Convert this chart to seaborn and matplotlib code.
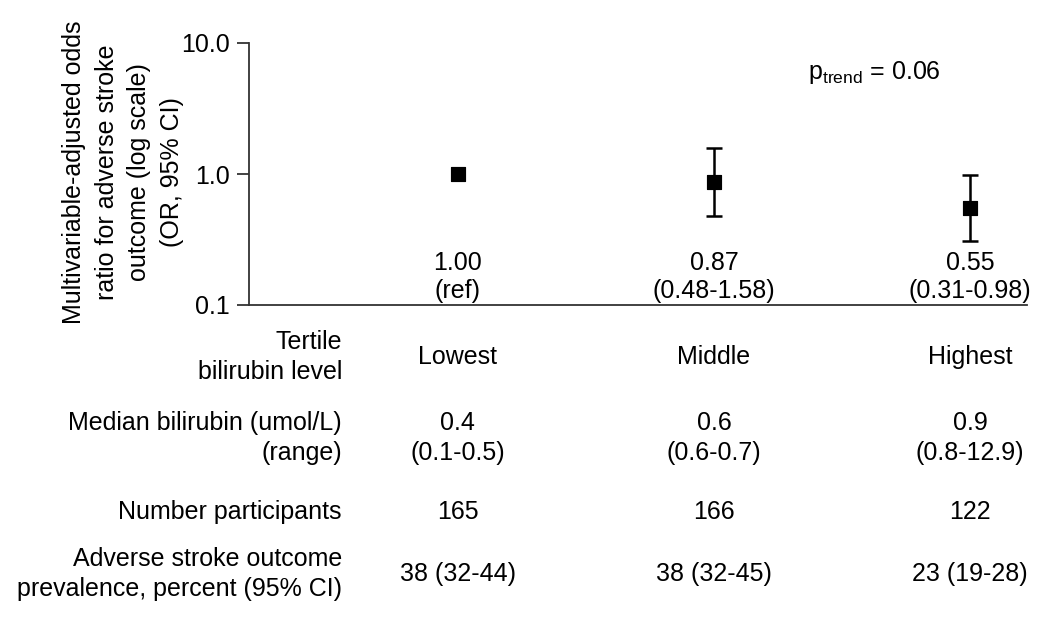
import matplotlib
matplotlib.use("Agg")
import matplotlib.pyplot as plt
import matplotlib.transforms as mtransforms
import seaborn as sns
import pandas as pd

tertiles = ["Lowest", "Middle", "Highest"]
odds_ratio = [1.00, 0.87, 0.55]
ci_low = [None, 0.48, 0.31]
ci_high = [None, 1.58, 0.98]
or_labels = ["1.00\n(ref)", "0.87\n(0.48-1.58)", "0.55\n(0.31-0.98)"]
median_bili = ["0.4\n(0.1-0.5)", "0.6\n(0.6-0.7)", "0.9\n(0.8-12.9)"]
n_participants = ["165", "166", "122"]
prevalence = ["38 (32-44)", "38 (32-45)", "23 (19-28)"]
yticks = [0.1, 1.0, 10.0]
ytick_labels = ["0.1", "1.0", "10.0"]

sns.set_theme(style="white")
plt.rcParams["font.family"] = ["Liberation Sans", "DejaVu Sans"]
plt.rcParams["mathtext.fontset"] = "custom"
plt.rcParams["mathtext.rm"] = "Liberation Sans"
plt.rcParams["mathtext.it"] = "Liberation Sans"
plt.rcParams["text.color"] = "black"
plt.rcParams["ytick.color"] = "black"
plt.rcParams["ytick.labelcolor"] = "black"

FS = 18
fig = plt.figure(figsize=(10.5, 6.24), dpi=100)
ax = fig.add_axes([249/1050, 1-305/624, (1027-249)/1050, (305-43)/624])

df = pd.DataFrame({"x": [0, 1, 2], "or": odds_ratio})
for i in range(3):
    if ci_low[i] is not None:
        ax.errorbar(i, odds_ratio[i],
                    yerr=[[odds_ratio[i]-ci_low[i]], [ci_high[i]-odds_ratio[i]]],
                    fmt="none", ecolor="black", elinewidth=1.8, capsize=6, capthick=1.8)
sns.scatterplot(data=df, x="x", y="or", marker="s", s=110, color="black",
                edgecolor="black", ax=ax, zorder=3)

ax.set_yscale("log")
ax.set_ylim(0.1, 10.0)
ax.set_xlim(-0.816, 2.223)
ax.set_yticks(yticks)
ax.set_yticklabels(ytick_labels, fontsize=FS)
ax.minorticks_off()
ax.set_xticks([])
ax.set_xlabel("")
ax.set_ylabel("")
for s in ["top", "right"]:
    ax.spines[s].set_visible(False)
for s in ["left", "bottom"]:
    ax.spines[s].set_color("#333333")
    ax.spines[s].set_linewidth(1.3)
ax.tick_params(axis="y", which="major", left=True, length=9, width=1.3,
               color="#333333", pad=5)

# OR annotations inside axes
tr_axes = mtransforms.blended_transform_factory(ax.transData, fig.transFigure)
for i, lab in enumerate(or_labels):
    ax.text(i, 1-277/624, lab, transform=tr_axes, ha="center", va="center",
            fontsize=FS, linespacing=1.25)

ax.text(808/1050, 1-72/624, r"p$_{\mathrm{trend}}$ = 0.06", transform=fig.transFigure,
        ha="left", va="center", fontsize=FS)

# y label
fig.text(123/1050, 1-172/624,
         "Multivariable-adjusted odds\nratio for adverse stroke\noutcome (log scale)\n(OR, 95% CI)",
         rotation=90, ha="center", va="center", fontsize=FS, linespacing=1.45,
         multialignment="center")

# table below
lab_x = 342/1050
fig.text(lab_x, 1-357/624, "Tertile\nbilirubin level", ha="right", va="center",
         fontsize=FS, linespacing=1.3, multialignment="right")
fig.text(lab_x, 1-438/624, "Median bilirubin (umol/L)\n(range)", ha="right", va="center",
         fontsize=FS, linespacing=1.3, multialignment="right")
fig.text(lab_x, 1-512/624, "Number participants", ha="right", va="center", fontsize=FS)
fig.text(lab_x, 1-574/624, "Adverse stroke outcome\nprevalence, percent (95% CI)",
         ha="right", va="center", fontsize=FS, linespacing=1.3, multialignment="right")

for i in range(3):
    fig.text(i, 1-357/624, tertiles[i], transform=tr_axes, ha="center", va="center", fontsize=FS)
    fig.text(i, 1-438/624, median_bili[i], transform=tr_axes, ha="center", va="center",
             fontsize=FS, linespacing=1.3)
    fig.text(i, 1-512/624, n_participants[i], transform=tr_axes, ha="center", va="center", fontsize=FS)
    fig.text(i, 1-574/624, prevalence[i], transform=tr_axes, ha="center", va="center", fontsize=FS)

fig.savefig("out.png", dpi=100, facecolor="white")
